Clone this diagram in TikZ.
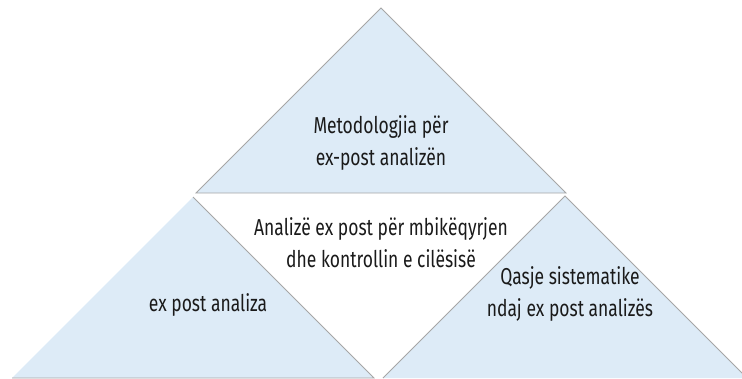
\documentclass[tikz,border=0pt]{standalone}
\usepackage{fontspec}
\setmainfont[FakeStretch=0.76]{Fira Sans}
\begin{document}
\begin{tikzpicture}[x=1pt,y=-1pt,
  tri/.style={fill=triblue,draw=trigray,line width=0.8pt,line join=miter},
  lbl/.style={align=center,text=txtgray,font=\fontsize{23}{32}\selectfont,inner sep=0pt}]
\definecolor{triblue}{HTML}{DDEBF7}
\definecolor{trigray}{HTML}{A6A6A6}
\definecolor{txtgray}{HTML}{1A1A1A}
\useasboundingbox (0,0) rectangle (742,378);
\begin{scope}
\clip (0,0) rectangle (742,378);
\draw[tri] (381,8) -- (566,193) -- (196,193) -- cycle;
\draw[tri] (193,197) -- (374,378) -- (12,378);
\draw[tri] (383,378) -- (565,196) -- (747,378);
\end{scope}
\node[lbl] (top) at (381,143) {Metodologjia për\\ex-post analizën};
\node[lbl] (mid) at (381,243) {Analizë ex post për mbikëqyrjen\\dhe kontrollin e cilësisë};
\node[lbl] (left) at (208,305) {ex post analiza};
\node[lbl] (right) at (570,294) {Qasje sistematike\\ndaj ex post analizës};
\end{tikzpicture}
\end{document}
